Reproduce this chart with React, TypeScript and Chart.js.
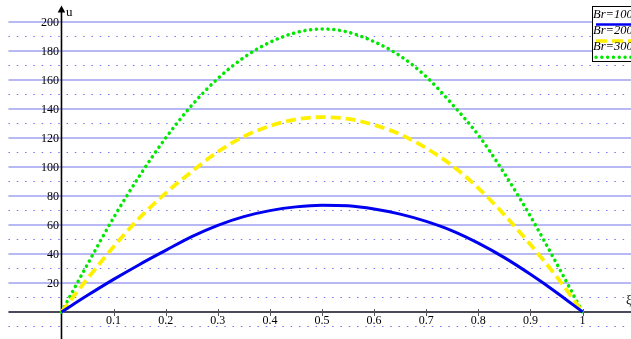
import React, { useEffect, useRef } from 'react';
import { Chart, registerables } from 'chart.js';

Chart.register(...registerables);

// ---- data ----
const xi = [0, 0.05, 0.1, 0.15, 0.2, 0.25, 0.3, 0.35, 0.4, 0.45, 0.5, 0.55, 0.6, 0.65, 0.7, 0.75, 0.8, 0.85, 0.9, 0.95, 1];
const uBr100 = [0, 11.5, 22.5, 32.8, 42.5, 52, 59.8, 65.8, 69.9, 72.5, 73.6, 73.2, 71, 67.5, 62.5, 56, 47.5, 37.5, 26, 13.5, 0];
const uBr200 = [0, 23, 45, 65, 82, 96.8, 110.5, 121, 128.3, 132.8, 134.4, 133.2, 129, 122.5, 113, 100.9, 85.5, 67, 46.5, 24.5, 0];
const uBr300 = [0, 33, 65, 94, 120, 142.5, 161, 175.5, 186, 192.7, 195.2, 193, 186.4, 176.6, 162.3, 143.2, 122, 95.6, 66, 33.6, 0];
const seriesLabels = ['Br=100', 'Br=200', 'Br=300'];

const yTickValues = [20, 40, 60, 80, 100, 120, 140, 160, 180, 200];
const yTickLabels = ['20', '40', '60', '80', '100', '120', '140', '160', '180', '200'];
const yMinorRows = [-10, 10, 30, 50, 70, 90, 110, 130, 150, 170, 190];
const xTickValues = [0.1, 0.2, 0.3, 0.4, 0.5, 0.6, 0.7, 0.8, 0.9, 1];
const xTickLabels = ['0.1', '0.2', '0.3', '0.4', '0.5', '0.6', '0.7', '0.8', '0.9', '1'];

const X_MIN = -0.118;
const X_MAX = 1.093;
const Y_MIN = -18.62;
const Y_MAX = 215.17;
const GRID_X_START = -0.1018;

const BLUE = '#0000f0';
const YELLOW = '#fff000';
const GREEN = '#00e800';
const SERIF = '"Liberation Serif", "DejaVu Serif", serif';

const maplePlugin = {
  id: 'mapleAxes',
  beforeDatasetsDraw(chart: any) {
    const ctx = chart.ctx as CanvasRenderingContext2D;
    const xs = chart.scales.x;
    const ys = chart.scales.y;
    const left = xs.getPixelForValue(GRID_X_START);
    const right = chart.width;
    ctx.save();
    // minor dotted rows
    ctx.strokeStyle = 'rgb(115,115,240)';
    ctx.lineWidth = 1;
    ctx.setLineDash([1.5, 6.8]);
    for (const v of yMinorRows) {
      const y = ys.getPixelForValue(v);
      ctx.beginPath();
      ctx.moveTo(left, y);
      ctx.lineTo(right, y);
      ctx.stroke();
    }
    // major solid rows
    ctx.setLineDash([]);
    ctx.strokeStyle = 'rgb(160,160,240)';
    ctx.lineWidth = 1.3;
    for (const v of yTickValues) {
      const y = ys.getPixelForValue(v);
      ctx.beginPath();
      ctx.moveTo(left, y);
      ctx.lineTo(right, y);
      ctx.stroke();
    }
    // x axis
    const y0 = ys.getPixelForValue(0);
    ctx.strokeStyle = '#4a4a58';
    ctx.lineWidth = 2;
    ctx.beginPath();
    ctx.moveTo(left, y0);
    ctx.lineTo(right, y0);
    ctx.stroke();
    // x tick marks
    ctx.lineWidth = 1;
    ctx.strokeStyle = '#555';
    for (const v of xTickValues) {
      const x = Math.round(xs.getPixelForValue(v)) + 0.5;
      ctx.beginPath();
      ctx.moveTo(x, y0 - 3);
      ctx.lineTo(x, y0 + 4);
      ctx.stroke();
    }
    // y axis
    const x0 = xs.getPixelForValue(0);
    ctx.strokeStyle = '#000';
    ctx.lineWidth = 1.6;
    ctx.beginPath();
    ctx.moveTo(x0, chart.height);
    ctx.lineTo(x0, 11);
    ctx.stroke();
    ctx.fillStyle = '#000';
    ctx.beginPath();
    ctx.moveTo(x0, 5.5);
    ctx.lineTo(x0 - 3.8, 12.5);
    ctx.lineTo(x0 + 3.8, 12.5);
    ctx.closePath();
    ctx.fill();
    ctx.restore();
  },
  afterDatasetsDraw(chart: any) {
    const ctx = chart.ctx as CanvasRenderingContext2D;
    const xs = chart.scales.x;
    const ys = chart.scales.y;
    const x0 = xs.getPixelForValue(0);
    const y0 = ys.getPixelForValue(0);
    ctx.save();
    ctx.fillStyle = '#000';
    ctx.font = `12px ${SERIF}`;
    // y labels
    ctx.textAlign = 'right';
    ctx.textBaseline = 'middle';
    yTickValues.forEach((v, i) => {
      ctx.fillText(yTickLabels[i], x0 - 2.5, ys.getPixelForValue(v) + 0.5);
    });
    // x labels
    ctx.textAlign = 'center';
    ctx.textBaseline = 'alphabetic';
    xTickValues.forEach((v, i) => {
      ctx.fillText(xTickLabels[i], xs.getPixelForValue(v), y0 + 12);
    });
    // axis names
    ctx.textAlign = 'left';
    ctx.font = `13px ${SERIF}`;
    ctx.fillText('u', x0 + 4.5, 16);
    ctx.fillText('ξ', 626, y0 - 8);

    // legend
    const bx = 592;
    const by = 6;
    const bw = 60;
    const bh = 55;
    ctx.fillStyle = '#fff';
    ctx.fillRect(bx, by, bw, bh);
    ctx.strokeStyle = '#000';
    ctx.lineWidth = 1;
    ctx.strokeRect(bx + 0.5, by + 0.5, bw, bh);
    const colors = [BLUE, YELLOW, GREEN];
    ctx.font = `italic 12.5px ${SERIF}`;
    seriesLabels.forEach((lab, i) => {
      const ty = by + 11.5 + i * 16.3;
      ctx.fillStyle = '#000';
      ctx.fillText(lab, bx + 1, ty);
      const ly = by + 18.5 + i * 16.4;
      ctx.beginPath();
      ctx.strokeStyle = colors[i];
      if (i === 0) {
        ctx.setLineDash([]);
        ctx.lineWidth = 2.6;
        ctx.lineCap = 'butt';
      } else if (i === 1) {
        ctx.setLineDash([11, 5]);
        ctx.lineWidth = 3.5;
        ctx.lineCap = 'butt';
      } else {
        ctx.setLineDash([0.1, 5.7]);
        ctx.lineWidth = 3.4;
        ctx.lineCap = 'round';
      }
      ctx.moveTo(bx + 4, ly);
      ctx.lineTo(chart.width + 5, ly);
      ctx.stroke();
    });
    ctx.restore();
  },
};

export default function App() {
  const ref = useRef<HTMLCanvasElement | null>(null);
  useEffect(() => {
    if (!ref.current) return;
    const mk = (ys: number[]) => xi.map((x, i) => ({ x, y: ys[i] }));
    const chart = new Chart(ref.current, {
      type: 'line',
      data: {
        datasets: [
          {
            label: seriesLabels[0],
            data: mk(uBr100),
            borderColor: BLUE,
            borderWidth: 3,
            pointRadius: 0,
            cubicInterpolationMode: 'monotone',
            fill: false,
          },
          {
            label: seriesLabels[1],
            data: mk(uBr200),
            borderColor: YELLOW,
            borderWidth: 3.8,
            borderDash: [10, 5],
            borderCapStyle: 'butt',
            pointRadius: 0,
            cubicInterpolationMode: 'monotone',
            fill: false,
          },
          {
            label: seriesLabels[2],
            data: mk(uBr300),
            borderColor: GREEN,
            borderWidth: 3.5,
            borderDash: [0.1, 5.7],
            borderCapStyle: 'round',
            pointRadius: 0,
            cubicInterpolationMode: 'monotone',
            fill: false,
          },
        ],
      },
      options: {
        animation: false,
        responsive: false,
        maintainAspectRatio: false,
        layout: { padding: 0 },
        plugins: { legend: { display: false }, tooltip: { enabled: false } },
        scales: {
          x: { type: 'linear', min: X_MIN, max: X_MAX, display: false },
          y: { type: 'linear', min: Y_MIN, max: Y_MAX, display: false },
        },
      },
      plugins: [maplePlugin],
    } as any);
    return () => chart.destroy();
  }, []);
  return (
    <div style={{ position: 'fixed', left: 0, top: 0, width: 631, height: 339, background: '#fff' }}>
      <canvas ref={ref} width={631} height={339} style={{ display: 'block' }} />
    </div>
  );
}
